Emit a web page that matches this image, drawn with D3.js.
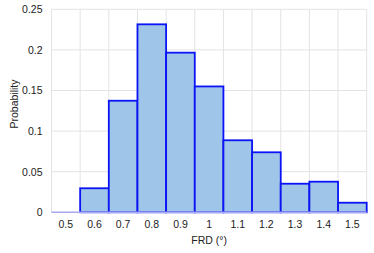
<!DOCTYPE html>
<html>
<head>
<meta charset="utf-8">
<script src="https://cdn.jsdelivr.net/npm/d3@7"></script>
<style>
  body { margin: 0; background: #fff; }
  text { font-family: "Liberation Sans", Arial, sans-serif; }
</style>
</head>
<body>
<svg id="chart" width="374" height="253"></svg>
<script>
const categories = ['0.5', '0.6', '0.7', '0.8', '0.9', '1', '1.1', '1.2', '1.3', '1.4', '1.5'];
const probability = [0, 0.0296, 0.1374, 0.2315, 0.1966, 0.155, 0.0887, 0.0739, 0.0352, 0.0377, 0.0118];
const yTicks = [0, 0.05, 0.1, 0.15, 0.2, 0.25];

const svg = d3.select('#chart');
const margin = { left: 51.5, right: 7.3, top: 9.3, bottom: 40.7 };
const width = +svg.attr('width');
const height = +svg.attr('height');

const x = d3.scaleBand()
  .domain(categories)
  .range([margin.left, width - margin.right])
  .padding(0);

const y = d3.scaleLinear()
  .domain([0, 0.25])
  .range([height - margin.bottom, margin.top]);

// grid
const grid = svg.append('g').attr('stroke', '#e3e3e3').attr('stroke-width', 1);
yTicks.forEach(t => {
  grid.append('line')
    .attr('x1', x.range()[0]).attr('x2', x.range()[1])
    .attr('y1', y(t)).attr('y2', y(t));
});
const edges = categories.map(c => x(c)).concat([x.range()[1]]);
edges.forEach(e => {
  grid.append('line')
    .attr('x1', e).attr('x2', e)
    .attr('y1', y(0.25)).attr('y2', y(0));
});

// bars
svg.append('g').selectAll('rect')
  .data(categories.map((c, i) => ({ c, v: probability[i] })).filter(d => d.v > 0))
  .join('rect')
  .attr('x', d => x(d.c))
  .attr('y', d => y(d.v))
  .attr('width', x.bandwidth())
  .attr('height', d => y(0) - y(d.v))
  .attr('fill', '#9fc5e8')
  .attr('stroke', '#0a14f5')
  .attr('stroke-width', 1.8);

// baseline
svg.append('line')
  .attr('x1', x.range()[0]).attr('x2', x.range()[1])
  .attr('y1', y(0)).attr('y2', y(0))
  .attr('stroke', '#a9a9f2').attr('stroke-width', 1.5);

// y tick labels
const yAxis = svg.append('g')
  .attr('transform', `translate(${margin.left},0)`)
  .call(d3.axisLeft(y).tickValues(yTicks).tickSize(0).tickPadding(9).tickFormat(d3.format('')));
yAxis.select('.domain').remove();
yAxis.selectAll('text').attr('font-size', 10.5).attr('fill', '#222')
  .attr('font-family', '"Liberation Sans", Arial, sans-serif');

// x tick labels
const xAxis = svg.append('g')
  .attr('transform', `translate(0,${y(0)})`)
  .call(d3.axisBottom(x).tickSize(0).tickPadding(8));
xAxis.select('.domain').remove();
xAxis.selectAll('text').attr('font-size', 10.5).attr('fill', '#222')
  .attr('font-family', '"Liberation Sans", Arial, sans-serif');

// axis titles
svg.append('text')
  .attr('x', (x.range()[0] + x.range()[1]) / 2)
  .attr('y', 244)
  .attr('text-anchor', 'middle')
  .attr('font-size', 10.5)
  .attr('fill', '#222')
  .text('FRD (°)');

svg.append('text')
  .attr('transform', 'translate(18,104) rotate(-90)')
  .attr('text-anchor', 'middle')
  .attr('font-size', 10.5)
  .attr('fill', '#222')
  .text('Probability');
</script>
</body>
</html>
